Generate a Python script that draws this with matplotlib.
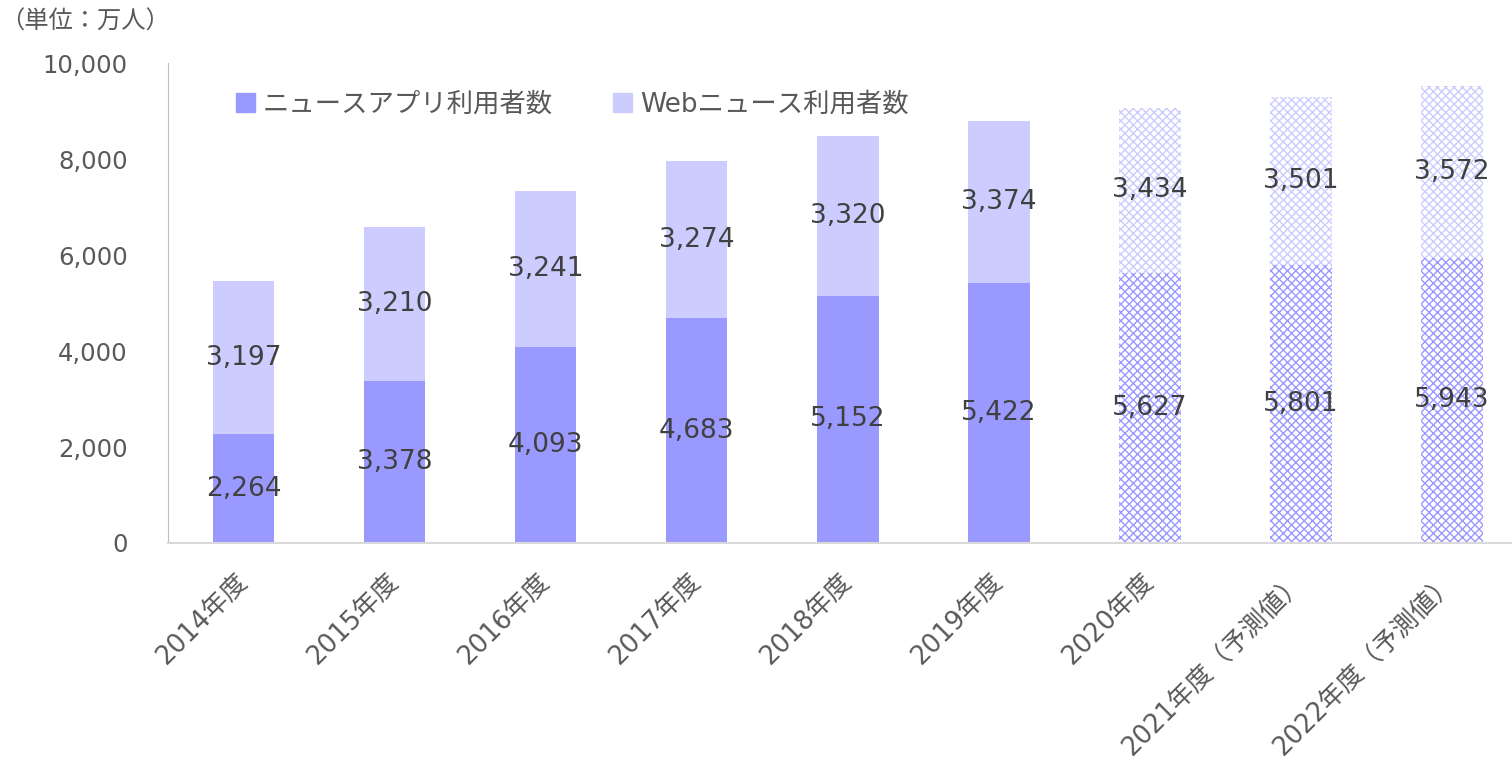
import matplotlib.pyplot as plt
import numpy as np

plt.rcParams['font.family'] = ['DejaVu Sans', 'Noto Sans CJK JP']
plt.rcParams['hatch.linewidth'] = 1.0

# data
years = ['2014年度', '2015年度', '2016年度', '2017年度', '2018年度', '2019年度',
         '2020年度', '2021年度（予測値）', '2022年度（予測値）']
app_users = [2264, 3378, 4093, 4683, 5152, 5422, 5627, 5801, 5943]
web_users = [3197, 3210, 3241, 3274, 3320, 3374, 3434, 3501, 3572]
n_actual = 6  # first 6 bars are solid, the rest hatched

c_app = '#9999ff'
c_web = '#ccccff'

fig = plt.figure(figsize=(15.12, 7.66), dpi=100)
ax = fig.add_axes([168 / 1512, 1 - 543 / 766, 1 - 168 / 1512, (543 - 63) / 766])

x = np.arange(len(years))
w = 0.41
for i in x:
    if i < n_actual:
        ax.bar(i, app_users[i], w, color=c_app, linewidth=0)
        ax.bar(i, web_users[i], w, bottom=app_users[i], color=c_web, linewidth=0)
    else:
        ax.bar(i, app_users[i], w, facecolor='white', edgecolor=c_app,
               hatch='xxxx', linewidth=0)
        ax.bar(i, web_users[i], w, bottom=app_users[i], facecolor='white',
               edgecolor=c_web, hatch='xxxx', linewidth=0)
    ax.text(i, app_users[i] / 2, f'{app_users[i]:,}', ha='center', va='center',
            fontsize=19, color='#404040')
    ax.text(i, app_users[i] + web_users[i] / 2, f'{web_users[i]:,}', ha='center',
            va='center', fontsize=19, color='#404040')

ax.set_xlim(-0.5, 8.4)
ax.set_ylim(0, 10000)
ax.set_yticks(range(0, 10001, 2000))
ax.set_yticklabels([f'{v:,}' for v in range(0, 10001, 2000)])
ax.set_xticks(x)
ax.set_xticklabels(years, rotation=45, ha='right', va='center',
                   rotation_mode='anchor')
ax.tick_params(axis='y', length=0, labelsize=17.5, colors='#595959', pad=29)
ax.tick_params(axis='x', length=0, labelsize=18.5, colors='#595959', pad=25)

for s in ['top', 'right']:
    ax.spines[s].set_visible(False)
ax.spines['left'].set_color('#bfbfbf')
ax.spines['bottom'].set_color('#d9d9d9')
ax.spines['bottom'].set_linewidth(1.5)

# legend
h1 = plt.Rectangle((0, 0), 1, 1, color=c_app)
h2 = plt.Rectangle((0, 0), 1, 1, color=c_web)
ax.legend([h1, h2], ['ニュースアプリ利用者数', 'Webニュース利用者数'], ncol=2,
          loc='upper left', bbox_to_anchor=(0.033, 0.99), frameon=False,
          fontsize=19, handlelength=0.7, handleheight=0.7, handletextpad=0.3,
          columnspacing=2.3, labelcolor='#595959')

fig.text(0.0, 1 - 22 / 766, '（単位：万人）', fontsize=17.5, color='#595959',
         va='center', ha='left', family=['Noto Sans CJK JP', 'DejaVu Sans'])

fig.savefig('out.png', dpi=100)
